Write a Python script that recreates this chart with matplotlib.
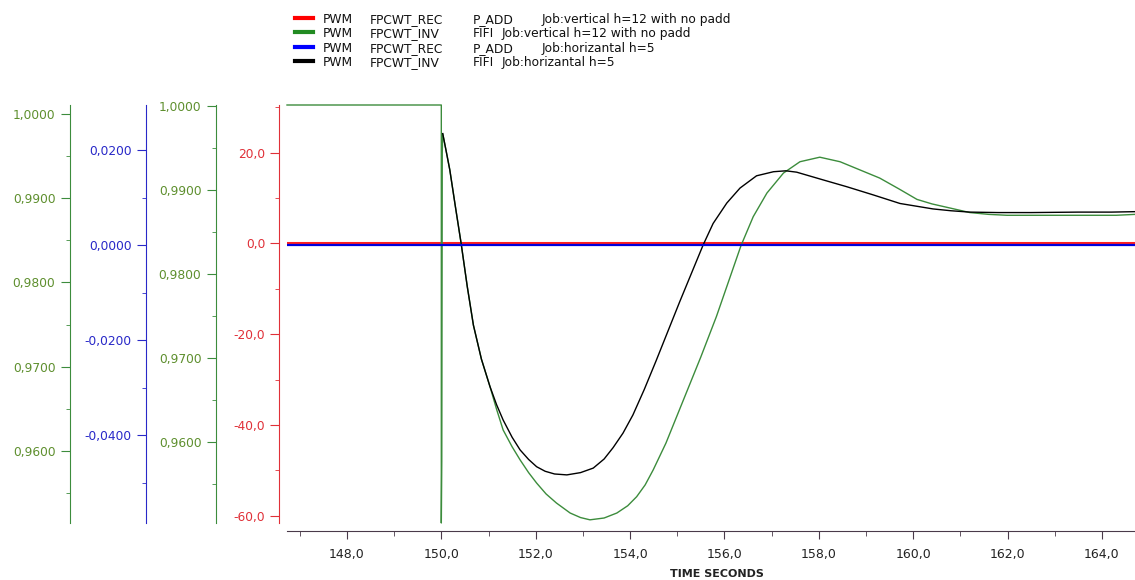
#plotting the PWM signals with several y axes on the left
import matplotlib
matplotlib.use("Agg")
import matplotlib.pyplot as plt
from matplotlib.lines import Line2D
from matplotlib.ticker import MultipleLocator, FuncFormatter

W, H = 1135, 580  # figure size in pixels

# time series (seconds, value on red axis)
black_t = [150.03, 150.10, 150.18, 150.30, 150.42, 150.55, 150.68, 150.85, 151.03, 151.17,
           151.31, 151.50, 151.67, 151.85, 152.02, 152.20, 152.40, 152.66, 152.95, 153.22,
           153.45, 153.64, 153.85, 154.06, 154.30, 154.55, 154.80, 155.05, 155.30,
           155.55, 155.76, 156.05, 156.33, 156.68, 157.04, 157.30, 157.53, 158.09, 158.59,
           159.15, 159.72, 160.42, 160.80, 161.20, 161.80, 162.50, 163.50, 164.20, 164.70]
black_v = [24.2, 20.5, 16.2, 8.0, 0.0, -9.5, -18.0, -25.5, -31.5, -35.5,
           -38.9, -42.7, -45.5, -47.6, -49.2, -50.2, -50.8, -51.0, -50.5, -49.5,
           -47.5, -45.0, -41.8, -37.8, -32.2, -25.9, -19.4, -12.9, -6.6,
           -0.3, 4.4, 8.9, 12.2, 14.9, 15.8, 16.0, 15.7, 14.0, 12.5,
           10.7, 8.8, 7.6, 7.2, 6.9, 6.8, 6.8, 6.9, 6.9, 7.0]

green_t = [146.73, 150.00, 150.00, 150.01, 150.02, 150.03, 150.10, 150.18, 150.30, 150.42,
           150.55, 150.68, 150.85, 151.03, 151.17, 151.31, 151.50, 151.67, 151.85, 152.02,
           152.22, 152.44, 152.73, 152.95, 153.15, 153.45, 153.72, 153.95, 154.14, 154.32,
           154.49, 154.76, 155.13, 155.50, 155.83, 156.10, 156.35, 156.61, 156.90, 157.25,
           157.60, 158.02, 158.45, 158.87, 159.29, 159.70, 160.08, 160.40, 160.78, 161.20,
           161.60, 161.99, 163.00, 164.30, 164.70]
green_v = [30.5, 30.5, -61.6, -48.0, 20.0, 24.2, 20.5, 16.2, 8.0, 0.0,
           -9.5, -18.0, -25.5, -31.5, -36.5, -41.1, -44.8, -47.7, -50.5, -52.8,
           -55.2, -57.2, -59.4, -60.4, -60.9, -60.5, -59.4, -57.8, -55.8, -53.2,
           -49.9, -44.0, -34.5, -25.0, -16.1, -8.0, -0.5, 5.9, 11.1, 15.5,
           18.0, 19.0, 18.0, 16.2, 14.4, 12.0, 9.7, 8.7, 7.8, 6.8,
           6.4, 6.2, 6.2, 6.2, 6.4]

red_t = [146.73, 164.70]
red_v = [0.0, 0.0]
blue_t = [146.73, 164.70]
blue_v = [0.0, 0.0]

legend_cols = [["PWM", "FPCWT_REC", "P_ADD", "Job:vertical h=12 with no padd"],
               ["PWM", "FPCWT_INV", "FIFI", "Job:vertical h=12 with no padd"],
               ["PWM", "FPCWT_REC", "P_ADD", "Job:horizantal h=5"],
               ["PWM", "FPCWT_INV", "FIFI", "Job:horizantal h=5"]]
legend_colors = ["#ff0000", "#228b22", "#0000ff", "#000000"]

RED = "#e03038"
BLUE = "#2828c8"
GREEN = "#3c8c3c"
GREEN_TXT = "#5e8f2e"


def rect(x0, ytop, x1, ybot):
    # pixel box -> figure fraction
    return [x0 / W, 1 - ybot / H, (x1 - x0) / W, (ybot - ytop) / H]


def comma(dec):
    return FuncFormatter(lambda v, p: ("%.*f" % (dec, v)).replace(".", ","))


plt.rcParams["font.family"] = "DejaVu Sans"
fig = plt.figure(figsize=(W / 100, H / 100), dpi=100)
fig.patch.set_facecolor("white")

# main plot (red axis)
ax = fig.add_axes(rect(287, 105, 1135, 523))
ax.set_xlim(146.73, 164.70)
ax.set_ylim(-61.6, 30.5)
for s in ["top", "right"]:
    ax.spines[s].set_visible(False)
ax.spines["left"].set_position(("outward", 6))
ax.spines["left"].set_color(RED)
ax.spines["bottom"].set_position(("outward", 6))
ax.spines["bottom"].set_color("#4a3a4a")
ax.xaxis.set_major_locator(MultipleLocator(2))
ax.xaxis.set_minor_locator(MultipleLocator(1))
ax.xaxis.set_major_formatter(comma(1))
ax.yaxis.set_major_locator(MultipleLocator(20))
ax.yaxis.set_minor_locator(MultipleLocator(10))
ax.yaxis.set_major_formatter(comma(1))
ax.tick_params(axis="x", which="major", length=6, color="#4a3a4a", pad=6, labelsize=9, labelcolor="#222222")
ax.tick_params(axis="x", which="minor", length=3.5, color="#4a3a4a")
ax.tick_params(axis="y", which="major", length=6.5, color=RED, labelcolor=RED, labelsize=8.8, pad=3)
ax.tick_params(axis="y", which="minor", length=3, color=RED)

ax.plot(red_t, red_v, color="#ff2020", lw=2.2, zorder=2)
ax.plot(green_t, green_v, color=GREEN, lw=1.0, zorder=3, clip_on=False)
ax.plot(black_t, black_v, color="black", lw=1.0, zorder=4)

# blue series on its own scale
axb = ax.twinx()
axb.set_ylim(-0.0585, 0.0295)
axb.axis("off")
axb.plot(blue_t, blue_v, color="#0000dd", lw=1.6, zorder=3)

# extra axes shown only as spines
extra = [(70, (0.95145, 1.00107), 0.01, 0.005, 4, GREEN, GREEN_TXT),
         (146, (-0.0585, 0.0295), 0.02, 0.01, 4, BLUE, BLUE),
         (216, (0.95036, 1.00012), 0.01, 0.005, 4, GREEN, GREEN_TXT)]
for xp, lim, maj, mnr, dec, col, tcol in extra:
    a = fig.add_axes(rect(xp, 105, xp + 1, 523))
    a.set_ylim(*lim)
    a.set_xticks([])
    a.patch.set_visible(False)
    for s in ["top", "right", "bottom"]:
        a.spines[s].set_visible(False)
    a.spines["left"].set_color(col)
    a.yaxis.set_major_locator(MultipleLocator(maj))
    a.yaxis.set_minor_locator(MultipleLocator(mnr))
    a.yaxis.set_major_formatter(comma(dec))
    a.tick_params(axis="y", which="major", length=6.5, color=col, labelcolor=tcol, labelsize=8.8, pad=4)
    a.tick_params(axis="y", which="minor", length=3, color=col)

fig.text(717 / W, 1 - 574 / H, "TIME SECONDS", ha="center", va="center",
         fontsize=8, fontweight="bold", color="#222222")

# legend drawn by hand (va top keeps the baselines in line)
rows_y = [18, 32, 47, 61]
for i, y in enumerate(rows_y):
    fy = 1 - y / H
    fig.add_artist(Line2D([295 / W, 313 / W], [fy, fy], color=legend_colors[i], lw=3,
                          transform=fig.transFigure))
    job_x = 542 if i % 2 == 0 else 502
    for txt, xp in zip(legend_cols[i], [323, 370, 473, job_x]):
        fig.text(xp / W, 1 - (y - 5.0) / H, txt, ha="left", va="top", fontsize=8.8,
                 color="#111111")

fig.savefig("out.png", dpi=100)
